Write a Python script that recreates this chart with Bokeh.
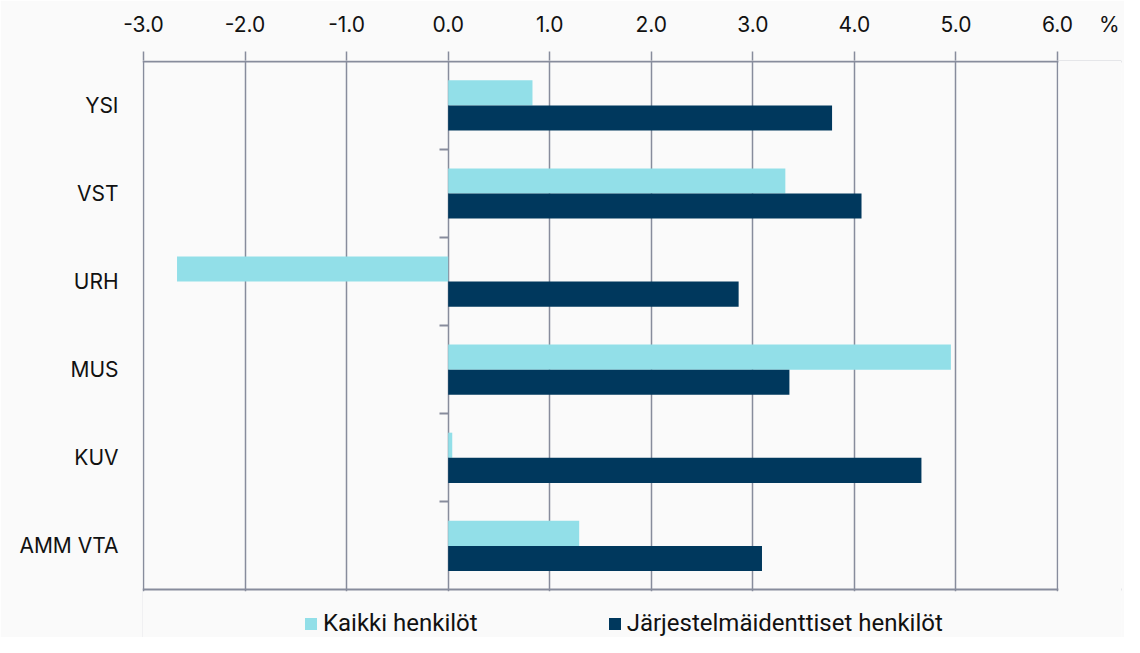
from bokeh.plotting import figure
from bokeh.models import (Range1d, FixedTicker, NumeralTickFormatter, LinearAxis,
                          Legend, LegendItem, ColumnDataSource, BoxAnnotation)
from bokeh.embed import file_html
from bokeh.resources import INLINE

categories = ["YSI", "VST", "URH", "MUS", "KUV", "AMM VTA"]
kaikki = [0.83, 3.32, -2.67, 4.95, 0.04, 1.29]
jarjestelma = [3.78, 4.07, 2.86, 3.36, 4.66, 3.09]
x_ticks = [-3, -2, -1, 0, 1, 2, 3, 4, 5, 6]
unit_label = "%"
unit_pos = 6.51

LIGHT = "#92dfe8"
DARK = "#00385d"
GRID = "#878c9c"
BG = "#fafafa"
FONT = "Inter"
TXT = "#111111"

n = len(categories)
centers = [n - 1 - i + 0.5 for i in range(n)]
boundaries = list(range(1, n))
bar_h = 0.285

src = ColumnDataSource(dict(
    cat=categories,
    y_light=[c + bar_h / 2 for c in centers],
    y_dark=[c - bar_h / 2 for c in centers],
    kaikki=kaikki,
    jarj=jarjestelma,
))

X0, X1 = -3.01, 6.63
Y0, Y1 = -0.54, n + 0.01

p = figure(width=1124, height=637, output_backend="svg", toolbar_location=None,
           x_range=Range1d(X0, X1), y_range=Range1d(Y0, Y1),
           x_axis_location="above",
           min_border_left=142, min_border_right=3, min_border_top=60, min_border_bottom=0)
p.background_fill_color = BG
p.border_fill_color = BG
p.outline_line_color = None

r1 = p.hbar(y="y_light", left=0, right="kaikki", height=bar_h, source=src,
            fill_color=LIGHT, line_color=None)
r2 = p.hbar(y="y_dark", left=0, right="jarj", height=bar_h, source=src,
            fill_color=DARK, line_color=None)

# x axis (top)
xa = p.xaxis[0]
xa.ticker = FixedTicker(ticks=x_ticks + [unit_pos], minor_ticks=x_ticks)
xa.formatter = NumeralTickFormatter(format="0.0")
xa.major_label_overrides = {unit_pos: unit_label}
xa.axis_line_color = None
xa.major_tick_line_color = None
xa.major_tick_out = 0
xa.major_tick_in = 0
xa.minor_tick_line_color = GRID
xa.minor_tick_line_width = 1.5
xa.minor_tick_out = 9
xa.minor_tick_in = 0
xa.major_label_standoff = 15
xa.major_label_text_font = FONT
xa.major_label_text_font_size = "21px"
xa.major_label_text_color = TXT

p.xgrid.ticker = FixedTicker(ticks=x_ticks)
p.xgrid.grid_line_color = GRID
p.xgrid.grid_line_width = 1.5

# frame border lines (top and bottom)
p.ygrid.ticker = FixedTicker(ticks=[0, n])
p.ygrid.grid_line_color = GRID
p.ygrid.grid_line_width = 2

# mask the frame area outside the chart box (below the bottom border, right of 6.0)
p.add_layout(BoxAnnotation(left=X0, right=X1, bottom=Y0, top=-0.016,
                           fill_color=BG, fill_alpha=1, line_color=None))
p.add_layout(BoxAnnotation(left=x_ticks[-1] + 0.009, right=X1, bottom=Y0, top=Y1,
                           fill_color=BG, fill_alpha=1, line_color=None))

# y axis labels (left)
ya = p.yaxis[0]
ya.ticker = FixedTicker(ticks=centers)
ya.major_label_overrides = {c: name for c, name in zip(centers, categories)}
ya.axis_line_color = None
ya.major_tick_line_color = None
ya.minor_tick_line_color = None
ya.major_tick_out = 0
ya.major_tick_in = 0
ya.major_label_standoff = 24
ya.major_label_text_font = FONT
ya.major_label_text_font_size = "21px"
ya.major_label_text_color = TXT

# category boundary ticks on the zero line
za = LinearAxis(fixed_location=0, ticker=FixedTicker(ticks=boundaries))
za.major_label_overrides = {b: "" for b in boundaries}
za.major_label_text_font_size = "0px"
za.axis_line_color = None
za.major_tick_line_color = GRID
za.major_tick_line_width = 2
za.major_tick_in = 0
za.major_tick_out = 9
za.minor_tick_line_color = None
za.major_label_standoff = 0
p.add_layout(za, "left")

legend = Legend(items=[LegendItem(label="Kaikki henkilöt", renderers=[r1]),
                       LegendItem(label="Järjestelmäidenttiset henkilöt", renderers=[r2])],
                location=(161, 0), orientation="horizontal",
                background_fill_alpha=0, border_line_color=None,
                glyph_width=15, glyph_height=15, padding=0, margin=0, spacing=129,
                label_standoff=5, label_text_font="Roboto", label_text_font_size="24px",
                label_text_color=TXT)
p.add_layout(legend, "center")

open("out.html", "w").write(file_html(p, INLINE))
